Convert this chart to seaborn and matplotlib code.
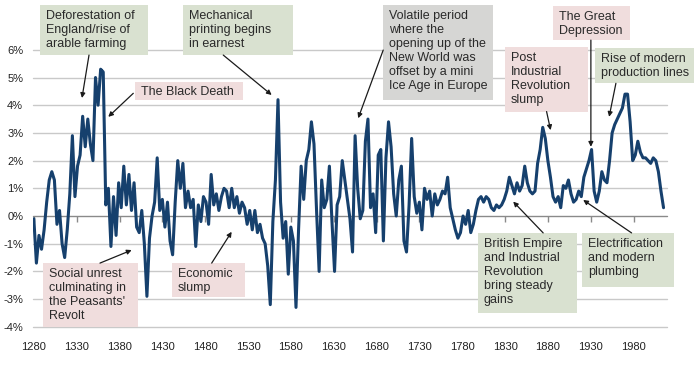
import matplotlib
matplotlib.use('Agg')
import matplotlib.pyplot as plt
import pandas as pd
import seaborn as sns
from matplotlib.patches import Rectangle

# values, one every three years from 1280
years = list(range(1280, 2016, 3))
growth = [
    # 1280-1367
    -0.1, -1.7, -0.7, -1.2, -0.5, 0.5, 1.3, 1.6, 1.3, -0.3,
    0.2, -1.0, -1.5, -0.5, 0.8, 2.9, 0.7, 1.8, 2.2, 3.6,
    2.5, 3.5, 2.6, 2.0, 5.0, 4.0, 5.3, 5.2, 0.4, 1.0,
    # 1370-1460
    -1.1, 0.7, -0.7, 1.2, 0.3, 1.8, 0.4, 1.5, 0.2, 1.2,
    -0.4, -0.6, 0.2, -1.0, -2.9, -0.8, 0.0, 0.5, 2.1, 0.2,
    0.6, -0.4, 0.5, -0.9, -1.4, 0.5, 2.0, 1.0, 1.9, 0.3, 0.9,
    # 1463-1556
    0.3, 0.6, -1.1, 0.4, -0.2, 0.7, 0.5, -0.3, 1.5, 0.4,
    0.8, 0.2, 0.7, 1.0, 0.9, 0.3, 1.0, 0.3, 0.7, 0.1,
    0.5, 0.3, -0.3, 0.2, -0.5, 0.2, -0.6, -0.3, -0.8, -1.0,
    -1.8, -3.2,
    # 1559-1649
    -0.2, 1.3, 4.2, 0.5, -0.8, -0.2, -2.1, -0.4, -0.9, -3.3,
    -0.5, 1.8, 0.6, 2.0, 2.4, 3.4, 2.6, 0.2, -2.0, 1.3,
    0.3, 0.6, 1.8, -0.2, -2.0, 0.4, 0.7, 2.0, 1.3, 0.6, -0.1,
    # 1652-1745
    -1.3, 2.9, 1.0, -0.1, 0.2, 2.7, 3.5, 0.3, 0.8, -0.6,
    2.2, 2.4, -0.9, 2.1, 3.4, 2.5, 0.8, 0.0, 1.3, 1.8,
    -0.9, -1.3, 0.4, 2.8, 0.7, 0.1, 0.5, -0.5, 1.0, 0.6,
    0.9, 0.0,
    # 1748-1835
    0.8, 0.4, 0.6, 0.9, 0.8, 1.4, 0.3, -0.1, -0.5, -0.8,
    -0.6, 0.0, -0.3, 0.2, -0.6, -0.3, 0.2, 0.6, 0.7, 0.5,
    0.7, 0.6, 0.3, 0.2, 0.4, 0.3, 0.4, 0.6, 0.9, 1.4,
    # 1838-2015
    1.1, 0.8, 1.2, 0.9, 1.1, 1.8, 1.2, 0.9, 0.8, 0.9,
    1.9, 2.4, 3.2, 2.8, 2.0, 1.4, 0.7, 0.5, 0.7, 0.3,
    1.1, 1.0, 1.3, 0.8, 0.5, 0.6, 0.9, 0.7, 1.4, 1.7,
    2.0, 2.4, 0.9, 0.5, 0.9, 1.6, 1.3, 1.2, 2.0, 3.0,
    3.3, 3.5, 3.7, 3.9, 4.4, 4.4, 3.4, 2.0, 2.2, 2.7,
    2.3, 2.1, 2.1, 2.0, 1.9, 2.1, 2.0, 1.6, 0.9, 0.3,
]

xtick_years = list(range(1280, 1981, 50))
ytick_vals = list(range(-4, 7))

GREEN = '#d9e1d0'
PINK = '#f0dddd'
GREY = '#d6d6d4'

# text, box (x0, x1, top, bottom) in year / % units, colour, arrow start, arrow end
notes = [
    ('Deforestation of\nEngland/rise of\narable farming', (1287.2, 1413.2, 7.62, 5.81), GREEN,
     (1344.4, 5.81), (1336.2, 4.26)),
    ('The Black Death', (1398.1, 1524.1, 4.85, 4.19), PINK,
     (1396.1, 4.43), (1366.9, 3.58)),
    ('Mechanical\nprinting begins\nin earnest', (1454.1, 1582.5, 7.62, 5.81), GREEN,
     (1501.1, 5.81), (1557.6, 4.37)),
    ('Volatile period\nwhere the\nopening up of the\nNew World was\noffset by a mini\nIce Age in Europe',
     (1687.4, 1815.8, 7.62, 4.19), GREY, (1687.8, 5.99), (1658.6, 3.53)),
    ('Post\nIndustrial\nRevolution\nslump', (1829.8, 1926.6, 6.10, 3.77), PINK,
     (1878.5, 3.77), (1883.2, 3.10)),
    ('The Great\nDepression', (1885.8, 1975.7, 7.58, 6.35), PINK,
     (1930.2, 6.35), (1930.2, 2.50)),
    ('Rise of modern\nproduction lines', (1934.8, 2050.3, 6.06, 4.79), GREEN,
     (1959.4, 4.79), (1951.5, 3.58)),
    ('British Empire\nand Industrial\nRevolution\nbring steady\ngains', (1798.3, 1913.9, -0.61, -3.51), GREEN,
     (1874.5, -0.61), (1839.5, 0.52)),
    ('Electrification\nand modern\nplumbing', (1919.7, 2027.0, -0.61, -2.55), GREEN,
     (1977.7, -0.61), (1921.2, 0.58)),
    ("Social unrest\nculminating in\nthe Peasants'\nRevolt", (1290.7, 1401.6, -1.70, -4.01), PINK,
     (1357.2, -1.70), (1394.2, -1.23)),
    ('Economic\nslump', (1441.3, 1526.5, -1.70, -2.92), PINK,
     (1487.6, -1.70), (1510.9, -0.57)),
]

df = pd.DataFrame({'Year': years, 'Growth': growth})

sns.set_style('white')
plt.rcParams['font.family'] = ['Liberation Sans', 'DejaVu Sans']

fig = plt.figure(figsize=(7, 3.66), dpi=100)
ax = fig.add_axes([0.0471, 0.1071, 0.9057, 0.7568])

for v in ytick_vals:
    ax.axhline(v, color='#8a8a8a' if v == 0 else '#c9c9c9', lw=1.0, zorder=1, clip_on=False)
ax.vlines(xtick_years, -0.2, 0, color='#8a8a8a', lw=1.0, zorder=1)

sns.lineplot(data=df, x='Year', y='Growth', color='#16406d', lw=2.2, ax=ax, zorder=3)

ax.set_xlim(1279, 2019)
ax.set_ylim(-4, 6)
ax.set_xticks(xtick_years)
ax.set_yticks(ytick_vals)
ax.set_yticklabels([f'{v}%' for v in ytick_vals])
ax.tick_params(axis='both', length=0, labelsize=8, colors='#222222')
ax.tick_params(axis='x', pad=11)
ax.tick_params(axis='y', pad=7)
ax.set_xlabel('')
ax.set_ylabel('')
for s in ax.spines.values():
    s.set_visible(False)

for text, (x0, x1, top, bot), fc, start, end in notes:
    ax.add_patch(Rectangle((x0, bot), x1 - x0, top - bot, transform=ax.transData,
                           facecolor=fc, edgecolor='none', zorder=5, clip_on=False))
    ax.annotate(text, xy=(x0, top), xytext=(4.3, -3.4), textcoords='offset points',
                ha='left', va='top', fontsize=9, color='#2a2a2a', linespacing=1.22,
                zorder=6, annotation_clip=False)
    ax.annotate('', xy=end, xytext=start,
                arrowprops=dict(arrowstyle='-|>', color='#1a1a1a', lw=0.9,
                                shrinkA=0, shrinkB=0, mutation_scale=7),
                zorder=7, annotation_clip=False)

fig.savefig('out.png', dpi=100, facecolor='white')
